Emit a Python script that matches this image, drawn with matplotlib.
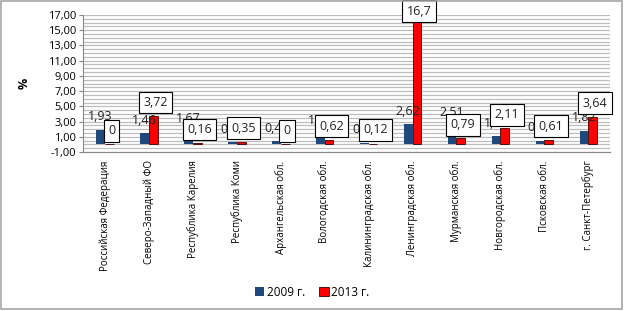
import numpy as np
import matplotlib
matplotlib.use('Agg')
import matplotlib.pyplot as plt
from matplotlib.patches import Rectangle

plt.rcParams['font.family'] = ['Open Sans', 'DejaVu Sans']

regions = ['Российская Федерация', 'Северо-Западный ФО', 'Республика Карелия',
           'Республика Коми', 'Архангельская обл.', 'Вологодская обл.',
           'Калининградская обл.', 'Ленинградская обл.', 'Мурманская обл.',
           'Новгородская обл.', 'Псковская обл.', 'г. Санкт-Петербург']
v2009 = [1.93, 1.46, 1.67, 0.26, 0.46, 1.42, 0.23, 2.62, 2.51, 1.06, 0.47, 1.82]
v2013 = [0, 3.72, 0.16, 0.35, 0, 0.62, 0.12, 16.7, 0.79, 2.11, 0.61, 3.64]
yticks = np.arange(-1, 18, 2)

blue = '#1F497D'
red = '#FF0000'


def fmt(v, dec=None):
    if dec is not None:
        return f'{v:.{dec}f}'.replace('.', ',')
    return f'{v:g}'.replace('.', ',')


fig = plt.figure(figsize=(6.24, 3.11), dpi=100)
ax = fig.add_axes([0.133, 0.511, 0.845, 0.441])

x = np.arange(len(regions))
w = 0.2
ax.bar(x - w / 2, v2009, w, color=blue, label='2009 г.', zorder=3)
ax.bar(x + w / 2, v2013, w, color=red, edgecolor='#400000', linewidth=0.6,
       label='2013 г.', zorder=3)

# data labels (kept inside the chart area like Excel does)
for i in range(len(regions)):
    ax.text(x[i] - w / 2, v2009[i] + 1.7, fmt(v2009[i], 2), ha='center',
            va='center', fontsize=9, color='#222222', zorder=4)
    ax.text(x[i] + w / 2 + 0.05, min(v2013[i] + 1.8, 17.5), fmt(v2013[i]),
            ha='center', va='center', fontsize=9, color='#222222', zorder=5,
            bbox=dict(boxstyle='square,pad=0.35', fc='white', ec='black', lw=0.8),
            clip_on=False)

ax.set_xlim(-0.5, len(regions) - 0.5)
ax.set_ylim(-1, 17)
ax.set_yticks(yticks)
ax.set_yticklabels([fmt(t, 2) for t in yticks], fontsize=8)
ax.set_yticks(np.arange(-1, 17.01, 0.5), minor=True)
ax.grid(axis='y', which='both', color='#bdbdbd', linewidth=0.9, zorder=0)
ax.set_xticks(x)
ax.set_xticklabels(regions, rotation=90, fontsize=7, va='top')
ax.tick_params(axis='x', length=0, pad=6)
ax.tick_params(axis='y', which='major', length=3, color='#888888', pad=2)
ax.tick_params(axis='y', which='minor', length=0)
ax.set_ylabel('%', fontsize=9, fontweight='bold', labelpad=12)
for s in ['top', 'right']:
    ax.spines[s].set_visible(False)
for s in ['left', 'bottom']:
    ax.spines[s].set_color('#888888')

fig.legend(loc='center', bbox_to_anchor=(0.5, 0.061), ncol=2, frameon=False,
           fontsize=8.5, handlelength=0.8, handleheight=0.8, handletextpad=0.2,
           columnspacing=1.2)

fig.patches.append(Rectangle((0.002, 0.008), 0.994, 0.988, transform=fig.transFigure,
                             fill=False, ec='#a6a6a6', lw=1.2))

fig.savefig('out.png', dpi=100)
